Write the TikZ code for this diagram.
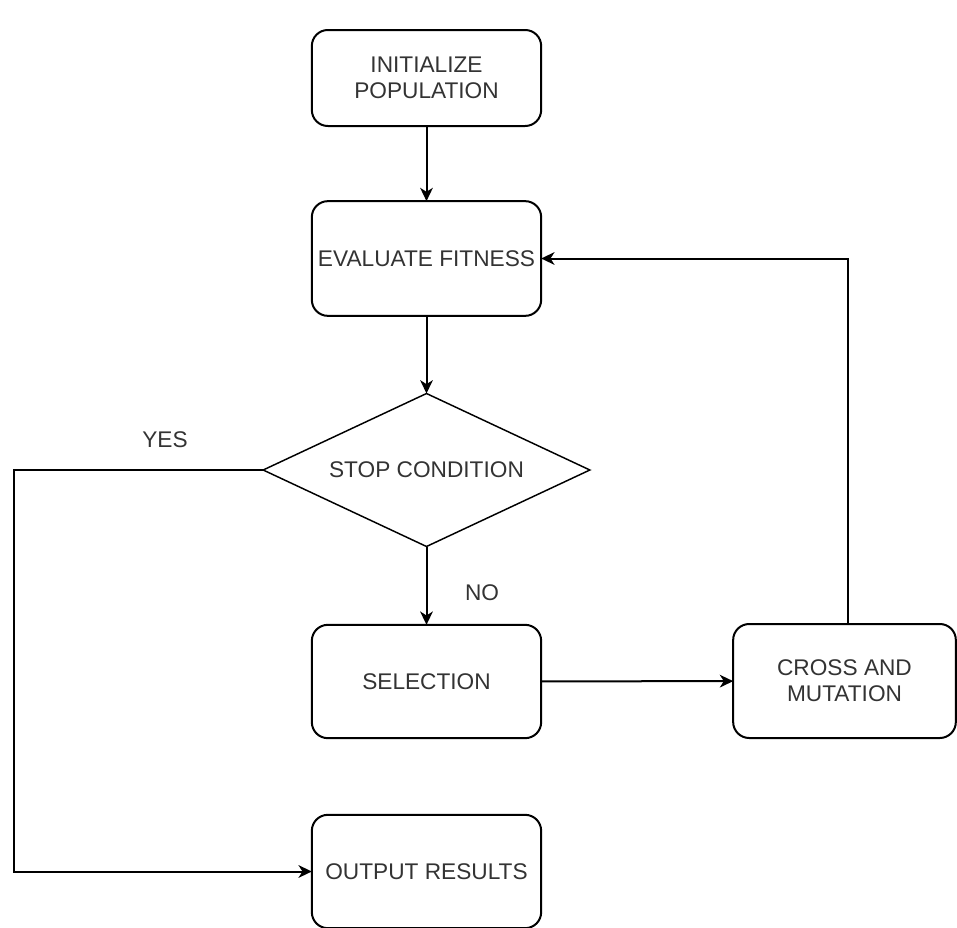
\documentclass[tikz,border=0pt]{standalone}
\usepackage{fontspec}
\setmainfont{Liberation Sans}
\usetikzlibrary{shapes.geometric,arrows.meta,calc}
\definecolor{txt}{HTML}{333333}
\begin{document}
\begin{tikzpicture}[x=0.75pt,y=-0.75pt,
  box/.style={draw=black,line width=1.5pt,rounded corners=12pt,fill=white,
    align=center,inner sep=0pt,outer sep=0pt,text=txt,
    font=\fontsize{17}{19.5}\selectfont},
  dec/.style={draw=black,line width=1.1pt,diamond,fill=white,inner sep=0pt,outer sep=0pt},
  lab/.style={text=txt,font=\fontsize{17}{19.5}\selectfont,inner sep=0pt},
  conn/.style={draw=black,line width=1.5pt,-{Stealth[length=10pt,width=9.5pt,inset=3pt]}}]
\useasboundingbox (0,0) rectangle (957,928);
\node[box,minimum width=172pt,minimum height=72pt] (init) at (426.5,78) {INITIALIZE\\POPULATION};
\node[box,minimum width=172pt,minimum height=86pt] (eval) at (426.5,258.5) {EVALUATE FITNESS};
\node[dec,minimum width=245pt,minimum height=114.75pt] (stop) at (426.5,470) {};
\node[lab] (stoptxt) at (stop.center) {STOP CONDITION};
\node[box,minimum width=172pt,minimum height=85pt] (sel) at (426.5,681.5) {SELECTION};
\node[box,minimum width=167pt,minimum height=85.5pt] (cross) at (844.5,681) {CROSS AND\\MUTATION};
\node[box,minimum width=172pt,minimum height=85pt] (out) at (426.5,871.5) {OUTPUT RESULTS};
\node[lab] (yes) at (165,440) {YES};
\node[lab] (no) at (482,593) {NO};
\coordinate (yc) at (14,470);
\coordinate (cc) at (848,260);
\draw[conn] (init) -- (eval);
\draw[conn] (eval) -- (stop.north);
\draw[conn] (stop.south) -- (sel);
\draw[conn] (sel) -- (cross);
\draw[conn] (cross.north -| cc) |- (eval.east);
\draw[conn] (stop.west) -- (yc) |- (out.west);
\end{tikzpicture}
\end{document}
